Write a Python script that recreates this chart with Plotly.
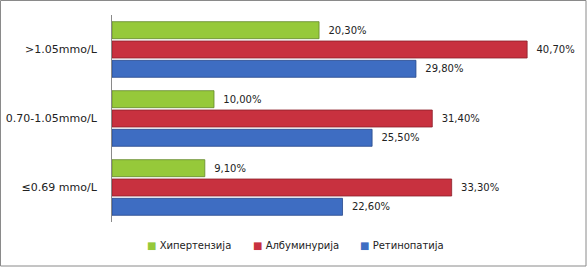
import plotly.graph_objects as go

categories = ["≤0.69 mmo/L", "0.70-1.05mmo/L", ">1.05mmo/L"]
retinopatija = [22.6, 25.5, 29.8]
albuminurija = [33.3, 31.4, 40.7]
hipertenzija = [9.1, 10.0, 20.3]
series_names = ["Ретинопатија", "Албуминурија", "Хипертензија"]
colors = ["#3E6DC2", "#C8313F", "#96C93A"]
edge_colors = ["#27478A", "#8C1E2A", "#63882A"]

W, H = 587, 268
L, R, T, B = 112, 587 - 112 - 459, 15, 268 - 222
pw, ph = W - L - R, H - T - B

fig = go.Figure()
for name, vals, c, ec in zip(series_names, [retinopatija, albuminurija, hipertenzija], colors, edge_colors):
    fig.add_trace(go.Bar(
        y=categories, x=vals, name=name, orientation="h",
        marker=dict(color=c, line=dict(color=ec, width=0.8)),
        text=["  " + f"{v:.2f}".replace(".", ",") + "%" for v in vals],
        textposition="outside",
        textfont=dict(family="DejaVu Sans", size=10, color="#222"),
        cliponaxis=False,
        showlegend=False,
    ))

def px_x(p):
    return (p - L) / pw

def px_y(p):
    return (H - B - p) / ph

# legend as annotations
legend_items = [("Хипертензија", colors[2], 145), ("Албуминурија", colors[1], 251), ("Ретинопатија", colors[0], 358)]
for name, c, xp in legend_items:
    fig.add_annotation(
        x=px_x(xp), y=px_y(245), xref="paper", yref="paper", xanchor="left", yanchor="middle",
        text=f"<span style='color:{c}'>■</span> {name}", showarrow=False,
        font=dict(family="DejaVu Sans", size=10, color="#222"),
    )

fig.add_shape(type="rect", xref="paper", yref="paper",
              x0=px_x(0.5), x1=px_x(586), y0=px_y(266), y1=px_y(0.5),
              line=dict(color="#8a8a8a", width=1), layer="below")

fig.update_layout(
    width=W, height=H,
    margin=dict(l=L, r=R, t=T, b=B),
    barmode="group", bargap=0.16, bargroupgap=0.12,
    separators=",.",
    plot_bgcolor="white", paper_bgcolor="white",
    xaxis=dict(range=[0, 45], visible=False, showgrid=False, zeroline=False, automargin=False),
    yaxis=dict(showline=True, linecolor="#8a8a8a", linewidth=1, ticks="",
               tickfont=dict(family="DejaVu Sans", size=11, color="#222"),
               showgrid=False, ticklabelstandoff=12, automargin=False),
    font=dict(family="DejaVu Sans"),
)

fig.write_html("out.html")
